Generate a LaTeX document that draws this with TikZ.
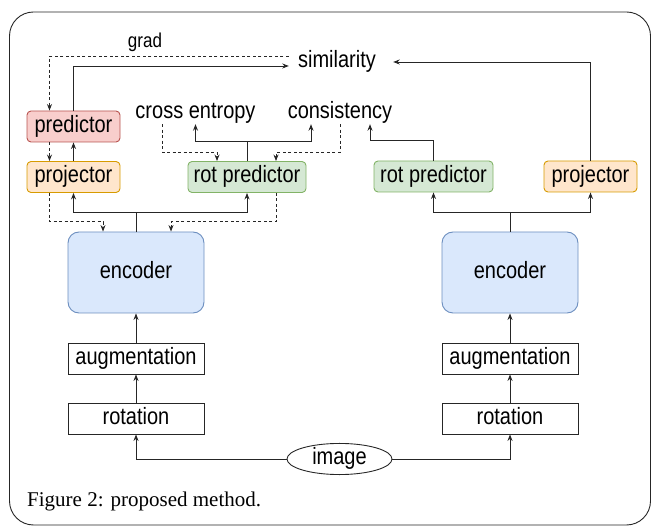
\documentclass[tikz,border=0pt]{standalone}
\usepackage{fontspec}
\usepackage{graphicx}
\setmainfont{Liberation Serif}
\setsansfont{Liberation Sans}
\usetikzlibrary{arrows.meta,shapes.geometric,calc}

\definecolor{predfill}{HTML}{F8CECC}\definecolor{predline}{HTML}{B85450}
\definecolor{projfill}{HTML}{FFE6CC}\definecolor{projline}{HTML}{D79B00}
\definecolor{rotfill}{HTML}{D5E8D4}\definecolor{rotline}{HTML}{82B366}
\definecolor{encfill}{HTML}{DAE8FC}\definecolor{encline}{HTML}{6C8EBF}
\definecolor{ink}{HTML}{262626}

% labels are set in a slightly tall, narrow sans
\newcommand\tl[1]{\scalebox{1}[1.18]{#1}}

\tikzset{
  lbl/.style={font=\sffamily\fontsize{20}{24}\selectfont, text=black,
    text height=17pt, text depth=5pt, inner sep=0pt},
  box/.style={lbl, draw, line width=0.9pt, rounded corners=4pt,
    minimum height=31pt},
  predbox/.style={box, fill=predfill, draw=predline, minimum width=93pt},
  projbox/.style={box, fill=projfill, draw=projline, minimum width=93pt},
  rotbox/.style={box, fill=rotfill, draw=rotline, minimum width=118pt},
  encbox/.style={box, fill=encfill, draw=encline, minimum width=136pt,
    minimum height=81pt, rounded corners=11pt},
  plainbox/.style={lbl, draw=ink, line width=0.9pt, minimum width=136pt,
    minimum height=31pt},
  word/.style={lbl, inner sep=0pt},
  wire/.style={draw=ink, line width=0.9pt},
  arr/.style={wire, -{Stealth[length=6.5pt,width=5pt]}},
  dsh/.style={dash pattern=on 3pt off 2.5pt},
}

\begin{document}
\begin{tikzpicture}[x=1pt, y=-1pt]
\useasboundingbox (0,0) rectangle (651,526);

% outer frame
\draw[ink, line width=0.9pt, rounded corners=24pt] (9.5,12) rectangle (650.5,525);

% loss terms
\node[word, minimum width=96pt] (sim) at (337,62) {\tl{similarity}};
\node[word, font=\sffamily\fontsize{17}{20}\selectfont, text height=14pt, text depth=4pt]
  (grad) at (145,43) {\tl{grad}};
\node[word] (ce) at (195.5,113) {\tl{cross entropy}};
\node[word] (cons) at (340,113) {\tl{consistency}};

% left branch
\node[predbox] (pred) at (73.5,126.5) {\tl{predictor}};
\node[projbox] (projL) at (73.5,177) {\tl{projector}};
\node[rotbox] (rotL) at (247,177) {\tl{rot predictor}};
\node[encbox] (encL) at (136,272.5) {\tl{encoder}};
\node[plainbox] (augL) at (136,358.5) {\tl{augmentation}};
\node[plainbox] (rotnL) at (136,418.5) {\tl{rotation}};

% right branch
\node[rotbox, minimum width=119pt] (rotR) at (433.5,176.5) {\tl{rot predictor}};
\node[projbox] (projR) at (590.5,176.5) {\tl{projector}};
\node[encbox] (encR) at (510,272.5) {\tl{encoder}};
\node[plainbox] (augR) at (510,358.5) {\tl{augmentation}};
\node[plainbox] (rotnR) at (510,418.5) {\tl{rotation}};

% input
\node[lbl, ellipse, draw=ink, line width=0.9pt, minimum width=105pt,
      minimum height=30pt, inner sep=0pt] (img) at (339.5,459) {\tl{image}};

% caption
\node[anchor=base west, inner sep=0pt, font=\fontsize{21}{25}\selectfont]
  (cap) at (27,507) {Figure 2: proposed method.};

% junction points
\coordinate (jL) at (136,212);
\coordinate (jR) at (510,212);
\coordinate (jrL) at (247,141);

% input pipeline
\draw[arr] (img.west) -| (rotnL.south);
\draw[arr] (img.east) -| (rotnR.south);
\draw[arr] (rotnL.north) -- (augL.south);
\draw[arr] (rotnR.north) -- (augR.south);
\draw[arr] (augL.north) -- (encL.south);
\draw[arr] (augR.north) -- (encR.south);

% encoder outputs
\draw[wire] (encL.north) -- (jL);
\draw[arr] (jL) -| (projL.south);
\draw[arr] (jL) -| (rotL.south);
\draw[wire] (encR.north) -- (jR);
\draw[arr] (jR) -| (rotR.south);
\draw[arr] (jR) -| (projR.south);

% left heads
\draw[arr] (projL.north) -- (pred.south);
\draw[arr] (pred.north) |- ([yshift=-4pt]sim.west);
\draw[wire] (rotL.north) -- (jrL);
\draw[arr] (jrL) -| (ce.south);
\draw[arr] (jrL) -| ([xshift=-29pt]cons.south);

% right heads
\draw[arr] (rotR.north) -- ++(0,-20) -| ([xshift=30pt]cons.south);
\draw[arr] (projR.north) |- ([xshift=8pt]sim.east);

% gradient paths (dashed)
\draw[arr, dsh] ([yshift=6pt]sim.west) -| ([xshift=-24pt]pred.north);
\draw[arr, dsh] ([xshift=-24pt]pred.south) -- ([xshift=-24pt]projL.north);
\draw[arr, dsh] ([xshift=-33.5pt]ce.south) -- ++(0,28) -| ([xshift=-30pt]rotL.north);
\draw[arr, dsh] (cons.south) -- ++(0,28) -| ([xshift=29pt]rotL.north);
\draw[arr, dsh] ([xshift=-24pt]projL.south) -- ++(0,29) -| ([xshift=-33pt]encL.north);
\draw[arr, dsh] ([xshift=29pt]rotL.south) -- ++(0,29) -| ([xshift=35pt]encL.north);
\end{tikzpicture}
\end{document}
